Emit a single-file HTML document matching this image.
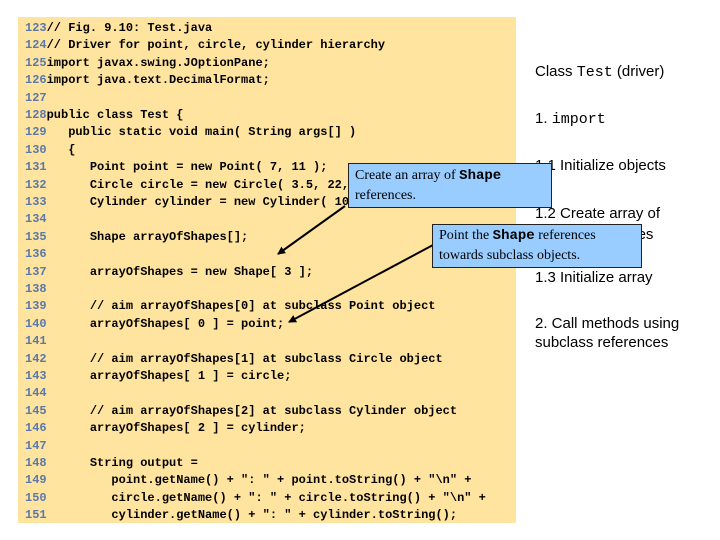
<!DOCTYPE html>
<html><head><meta charset="utf-8"><style>
body{margin:0;width:720px;height:540px;background:#fff;position:relative;overflow:hidden;font-family:"Liberation Sans",sans-serif}
#code{position:absolute;left:18px;top:17px;width:498px;height:506px;background:#FFE4A0}
.l{position:absolute;left:25px;font:bold 12px/1 "Liberation Mono",monospace;color:#000;white-space:pre}
.n{color:#5A78A8}
.r{position:absolute;left:535px;font-size:15px;color:#000;white-space:nowrap}
.box{position:absolute;background:#99CCFF;border:1px solid #222;font-family:"Liberation Serif",serif;font-size:14px;line-height:20px;padding:0 6px;box-sizing:border-box}
.box b{font-family:"Liberation Mono",monospace}
</style></head><body>
<div id="code"></div>
<div class="r" style="top:63px">Class <span style="font-family:'Liberation Mono',monospace">Test</span> (driver)</div>
<div class="r" style="top:110px">1. <span style="font-family:'Liberation Mono',monospace">import</span></div>
<div class="r" style="top:157px">1.1 Initialize objects</div>
<div class="r" style="top:203px;line-height:21px">1.2 Create array of<br>Shape references</div>
<div class="r" style="top:269px">1.3 Initialize array</div>
<div class="r" style="top:314px;line-height:19px">2. Call methods using<br>subclass references</div>
<div id="lines"></div>
<svg style="position:absolute;left:0;top:0" width="720" height="540">
<defs><marker id="a" markerWidth="8" markerHeight="8" refX="7" refY="4" orient="auto" markerUnits="userSpaceOnUse"><path d="M0,0L8,4L0,8z" fill="#000"/></marker></defs>
<line x1="345" y1="206" x2="278" y2="254" stroke="#000" stroke-width="2" marker-end="url(#a)"/>
<line x1="433" y1="245" x2="289" y2="322" stroke="#000" stroke-width="2" marker-end="url(#a)"/>
</svg>
<div class="box" style="left:348px;top:163px;width:204px;height:45px;padding-top:2px">Create an array of <b>Shape</b><br>references.</div>
<div class="box" style="left:432px;top:224px;width:210px;height:44px;padding-top:1px">Point the <b>Shape</b> references<br>towards subclass objects.</div>
<script>
var L=["// Fig. 9.10: Test.java","// Driver for point, circle, cylinder hierarchy","import javax.swing.JOptionPane;","import java.text.DecimalFormat;","","public class Test {","   public static void main( String args[] )","   {","      Point point = new Point( 7, 11 );","      Circle circle = new Circle( 3.5, 22, 8 );","      Cylinder cylinder = new Cylinder( 10, 3.3, 10, 10 );","","      Shape arrayOfShapes[];","","      arrayOfShapes = new Shape[ 3 ];","","      // aim arrayOfShapes[0] at subclass Point object","      arrayOfShapes[ 0 ] = point;","","      // aim arrayOfShapes[1] at subclass Circle object","      arrayOfShapes[ 1 ] = circle;","","      // aim arrayOfShapes[2] at subclass Cylinder object","      arrayOfShapes[ 2 ] = cylinder;","","      String output =","         point.getName() + \": \" + point.toString() + \"\\n\" +","         circle.getName() + \": \" + circle.toString() + \"\\n\" +","         cylinder.getName() + \": \" + cylinder.toString();"];
var h="";for(var i=0;i<L.length;i++){var t=L[i].replace(/&/g,"&amp;").replace(/</g,"&lt;");h+='<div class="l" style="top:'+(22+i*17.4)+'px"><span class="n">'+(123+i)+'</span>'+t+'</div>';}
document.getElementById("lines").innerHTML=h;
</script>
</body></html>
